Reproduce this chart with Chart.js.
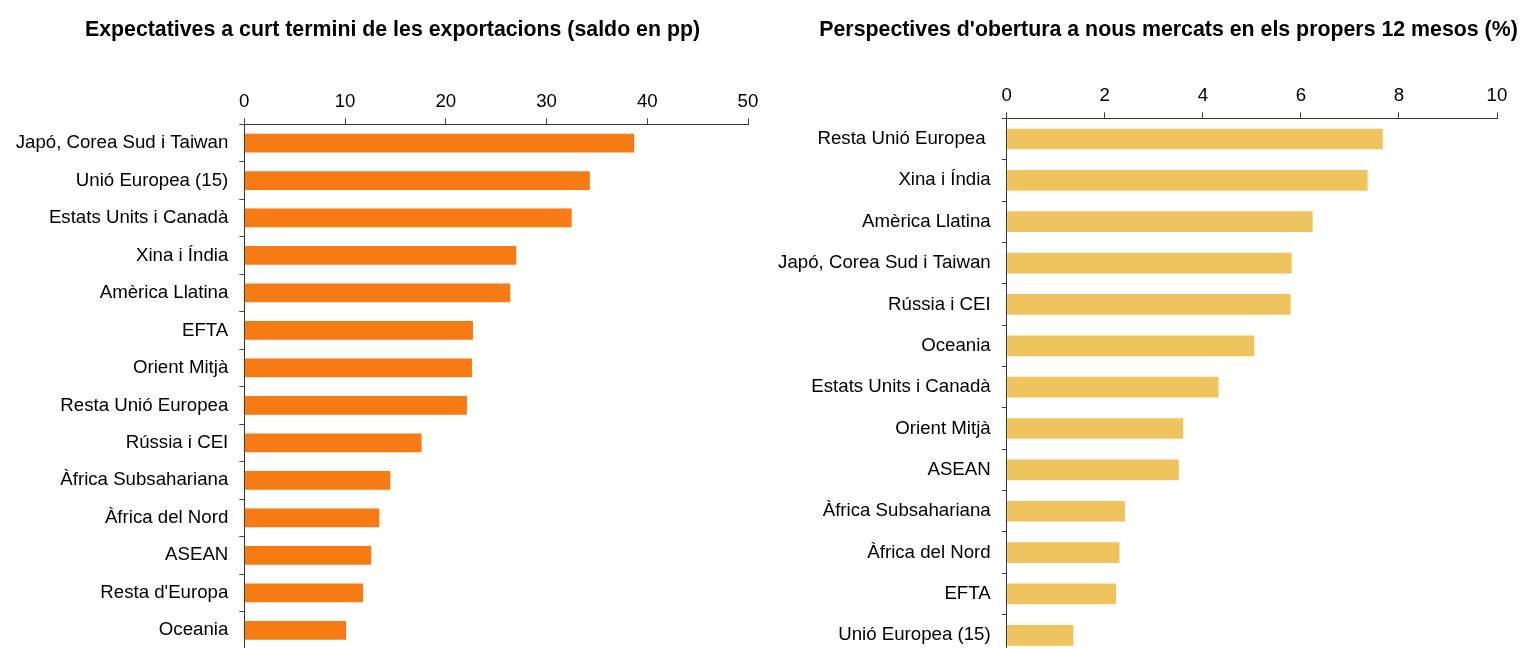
<!DOCTYPE html>
<html>
<head>
<meta charset="utf-8">
<script src="https://cdn.jsdelivr.net/npm/chart.js@4/dist/chart.umd.min.js"></script>
<style>
html,body{margin:0;padding:0;background:#fff;overflow:hidden;width:1521px;height:648px;position:relative;}
#wl{position:absolute;left:0;top:0;width:785px;height:649px;}
#wr{position:absolute;left:770px;top:0;width:797px;height:656px;}
</style>
</head>
<body>
<div id="wl"><canvas id="cl"></canvas></div>
<div id="wr"><canvas id="cr"></canvas></div>
<script>
// ---- Left chart data: Expectatives a curt termini de les exportacions (saldo en pp)
const exportTitle = "Expectatives a curt termini de les exportacions (saldo en pp)";
const exportCategories = [
  "Japó, Corea Sud i Taiwan", "Unió Europea (15)", "Estats Units i Canadà", "Xina i Índia",
  "Amèrica Llatina", "EFTA", "Orient Mitjà", "Resta Unió Europea", "Rússia i CEI",
  "Àfrica Subsahariana", "Àfrica del Nord", "ASEAN", "Resta d'Europa", "Oceania"
];
const exportValues = [38.7, 34.3, 32.5, 27.0, 26.4, 22.7, 22.6, 22.1, 17.6, 14.5, 13.4, 12.6, 11.8, 10.1];
const exportTicks = [0, 10, 20, 30, 40, 50];

// ---- Right chart data: Perspectives d'obertura a nous mercats en els propers 12 mesos (%)
const marketTitle = "Perspectives d'obertura a nous mercats en els propers 12 mesos (%)";
const marketCategories = [
  "Resta Unió Europea ", "Xina i Índia", "Amèrica Llatina", "Japó, Corea Sud i Taiwan",
  "Rússia i CEI", "Oceania", "Estats Units i Canadà", "Orient Mitjà", "ASEAN",
  "Àfrica Subsahariana", "Àfrica del Nord", "EFTA", "Unió Europea (15)"
];
const marketValues = [7.67, 7.36, 6.24, 5.81, 5.79, 5.05, 4.32, 3.60, 3.51, 2.41, 2.30, 2.23, 1.36];
const marketTicks = [0, 2, 4, 6, 8, 10];

const FONT = "'Liberation Sans', Arial, Helvetica, sans-serif";

function makeChart(canvasId, cfg) {
  return new Chart(document.getElementById(canvasId), {
    type: 'bar',
    data: {
      labels: cfg.categories,
      datasets: [{
        data: cfg.values,
        backgroundColor: cfg.color,
        borderWidth: 0,
        barPercentage: 0.5,
        categoryPercentage: 1.0
      }]
    },
    options: {
      indexAxis: 'y',
      responsive: true,
      maintainAspectRatio: false,
      animation: false,
      events: [],
      devicePixelRatio: 1,
      layout: { padding: { left: 0, right: 0, top: 0, bottom: 0 } },
      plugins: {
        legend: { display: false },
        tooltip: { enabled: false },
        title: {
          display: true,
          text: cfg.title,
          color: '#000',
          font: { family: FONT, size: 21.33, weight: 'bold', lineHeight: 1.2 },
          padding: { top: 17.7, bottom: 7.5 }
        }
      },
      scales: {
        x: {
          position: 'top',
          min: cfg.ticks[0],
          max: cfg.ticks[cfg.ticks.length - 1],
          afterBuildTicks: (s) => { s.ticks = cfg.ticks.map(v => ({ value: v })); },
          afterFit: (s) => { s.height = cfg.xHeight; s.paddingLeft = 0; s.paddingRight = cfg.padRight; },
          ticks: { color: '#000', font: { family: FONT, size: 18.67 }, padding: 5, maxRotation: 0 },
          grid: { drawOnChartArea: false, drawTicks: true, tickLength: 6, color: '#444', lineWidth: 1 },
          border: { display: true, color: '#333', width: 1 }
        },
        y: {
          afterFit: (s) => { s.width = cfg.yWidth; s.paddingTop = 0; s.paddingBottom = 0; },
          ticks: { color: '#000', font: { family: FONT, size: 18.67 }, padding: 11, autoSkip: false },
          grid: { drawOnChartArea: false, drawTicks: true, tickLength: 5, color: '#444', lineWidth: 1 },
          border: { display: true, color: '#333', width: 1 }
        }
      }
    }
  });
}

makeChart('cl', {
  title: exportTitle, categories: exportCategories, values: exportValues, ticks: exportTicks,
  color: '#F77B15', yWidth: 244.3, xHeight: 73.5, padRight: 37
});
makeChart('cr', {
  title: marketTitle, categories: marketCategories, values: marketValues, ticks: marketTicks,
  color: '#EFC35D', yWidth: 236.7, xHeight: 67.5, padRight: 70
});
</script>
</body>
</html>
